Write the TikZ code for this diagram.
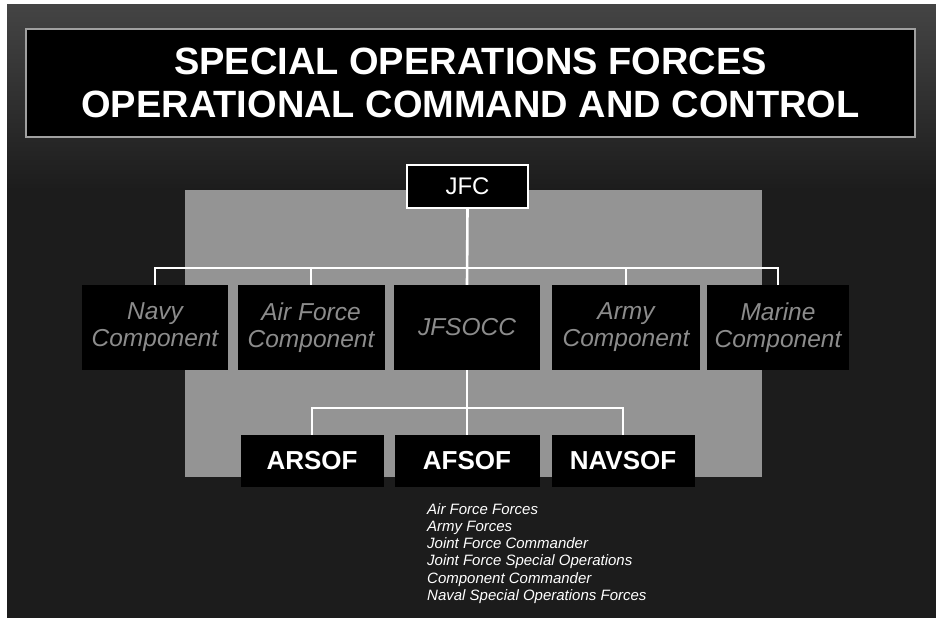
\documentclass[tikz,border=0pt]{standalone}
\usepackage{fontspec}
\setmainfont{Liberation Sans}
\definecolor{bgdark}{HTML}{1C1C1C}
\definecolor{bandgray}{HTML}{444444}
\definecolor{panelgray}{HTML}{949494}
\definecolor{dimtext}{HTML}{8C8C8C}
\definecolor{edgegray}{HTML}{A0A0A0}
\begin{document}
\begin{tikzpicture}[x=1pt,y=-1pt,
  box/.style={fill=black, inner sep=0pt, align=center, text=white},
  unit/.style={box, minimum height=85pt, text=dimtext, font=\itshape\fontsize{24.5}{27}\selectfont},
  sof/.style={box, minimum width=143pt, minimum height=52pt, font=\bfseries\fontsize{26}{30}\selectfont},
  link/.style={white, line width=2.6pt}]
\useasboundingbox (0,0) rectangle (936,618);
% page and background
\fill[white] (0,0) rectangle (936,618);
\fill[bgdark] (7,5) rectangle (936,618);
\shade[top color=bandgray, bottom color=bgdark] (7,5) rectangle (936,190);
% title
\node[box, draw=edgegray, line width=2pt, minimum width=889pt, minimum height=108pt,
      font=\bfseries\fontsize{38}{42.5}\selectfont] (title) at (470.5,83)
      {SPECIAL OPERATIONS FORCES\\OPERATIONAL COMMAND AND CONTROL};
% grey panel
\fill[panelgray] (185,190) rectangle (762,477);
% JFC
\node[box, draw=white, line width=1.2pt, minimum width=121pt, minimum height=43pt,
      font=\fontsize{24}{28}\selectfont] (jfc) at (467.5,186.5) {JFC};
% components
\node[unit, minimum width=146pt] (navy)   at (155,327.5) {Navy\\Component};
\node[unit, minimum width=147pt] (af)     at (311,327.5) {Air Force\\Component};
\node[unit, minimum width=146pt] (jfsocc) at (467,327.5) {JFSOCC};
\node[unit, minimum width=148pt] (army)   at (626,327.5) {Army\\Component};
\node[unit, minimum width=142pt] (marine) at (778,327.5) {Marine\\Component};
% SOF
\node[sof] (arsof)  at (312,461) {ARSOF};
\node[sof, minimum width=145pt] (afsof)  at (467,461) {AFSOF};
\node[sof] (navsof) at (623,461) {NAVSOF};
% connectors
\coordinate (bus1) at (467,268);
\coordinate (bus2) at (467,408);
\draw[link] (jfc.south) -- (jfsocc.north);
\draw[link] (navy.north) -- (navy.north|-bus1) -- (marine.north|-bus1) -- (marine.north);
\draw[link] (af.north|-bus1) -- (af.north);
\draw[link] (army.north|-bus1) -- (army.north);
\draw[link] (jfsocc.south) -- (afsof.north);
\draw[link] (arsof.north) -- (arsof.north|-bus2) -- (navsof.north|-bus2) -- (navsof.north);
% legend
\node[anchor=north west, inner sep=0pt, align=left, text=white,
      font=\itshape\fontsize{15}{17.3}\selectfont] (legend) at (427,503)
  {Air Force Forces\\Army Forces\\Joint Force Commander\\Joint Force Special Operations\\Component Commander\\Naval Special Operations Forces};
\end{tikzpicture}
\end{document}
